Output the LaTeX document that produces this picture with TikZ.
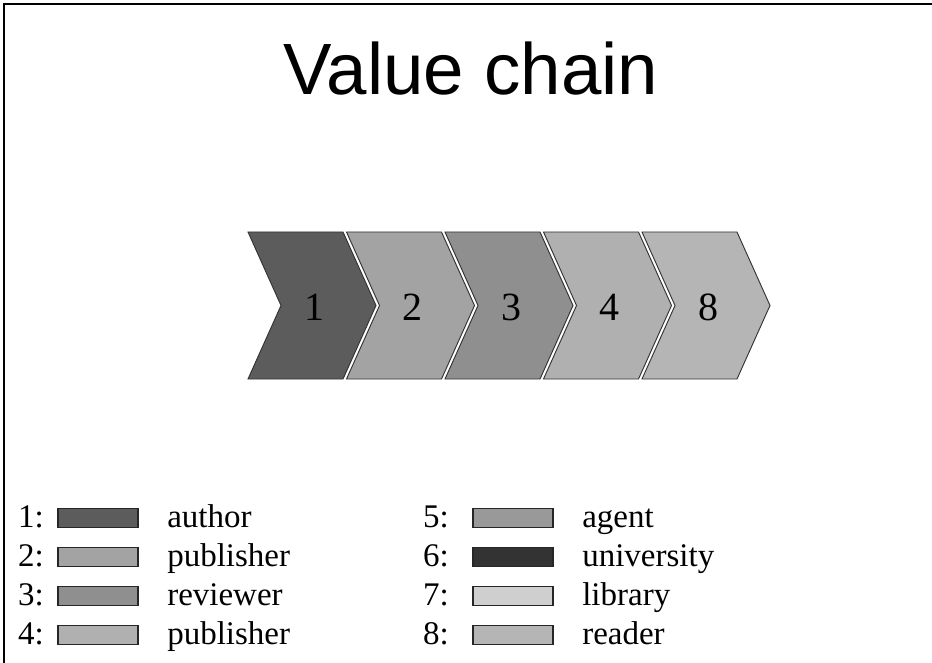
\documentclass[tikz,border=0pt]{standalone}
\usepackage{fontspec}
\setmainfont{Liberation Serif}
\newfontfamily\titlefont{Liberation Sans}
\definecolor{cA}{HTML}{5C5C5C}
\definecolor{cB}{HTML}{A3A3A3}
\definecolor{cC}{HTML}{8F8F8F}
\definecolor{cD}{HTML}{B0B0B0}
\definecolor{cE}{HTML}{999999}
\definecolor{cF}{HTML}{333333}
\definecolor{cG}{HTML}{CFCFCF}
\definecolor{cH}{HTML}{B5B5B5}
\begin{document}
\begin{tikzpicture}[x=0.75pt,y=-0.75pt,
  chev/.style={draw=black!80, line width=0.7pt, line join=miter},
  num/.style={font=\fontsize{30}{36}\selectfont, inner sep=0pt},
  lab/.style={font=\fontsize{24.75}{30}\selectfont, inner sep=0pt, anchor=base west},
  idx/.style={font=\fontsize{24.75}{30}\selectfont, inner sep=0pt, anchor=base east},
  swatch/.style={draw=black!85, line width=0.9pt, minimum width=60pt, minimum height=14.5pt, inner sep=0pt}]
\useasboundingbox (0,0) rectangle (932,663);
\draw[line width=1.6pt] (4,663) -- (4,4) -- (932,4);
\node[font=\titlefont\fontsize{54.5}{60}\selectfont, anchor=base, inner sep=0pt] (title) at (471,95) {Value chain};
% chevrons
\foreach \i/\n/\c in {0/1/cA,1/2/cB,2/3/cC,3/4/cD,4/8/cH}{
  \pgfmathsetmacro{\L}{248+98.5*\i}
  \draw[chev, fill=\c] (\L,232) -- ++(95,0) -- ++(33,73.5) -- ++(-33,73.5) -- ++(-95,0) -- ++(33,-73.5) -- cycle;
  \node[num] (chev\n) at (\L+66,307) {\n};
}
% legend left column
\foreach \k/\t/\c [count=\r from 0] in {1/author/cA,2/publisher/cB,3/reviewer/cC,4/publisher/cD}{
  \pgfmathsetmacro{\Y}{527+39*\r}
  \node[idx] (i\k) at (44,\Y) {\k:};
  \node[swatch, fill=\c] (s\k) at (98,\Y-9) {};
  \node[lab] (t\k) at (167,\Y) {\t};
}
% legend right column
\foreach \k/\t/\c [count=\r from 0] in {5/agent/cE,6/university/cF,7/library/cG,8/reader/cH}{
  \pgfmathsetmacro{\Y}{527+39*\r}
  \node[idx] (i\k) at (449,\Y) {\k:};
  \node[swatch, fill=\c] (s\k) at (513,\Y-9) {};
  \node[lab] (t\k) at (582,\Y) {\t};
}
\end{tikzpicture}
\end{document}
